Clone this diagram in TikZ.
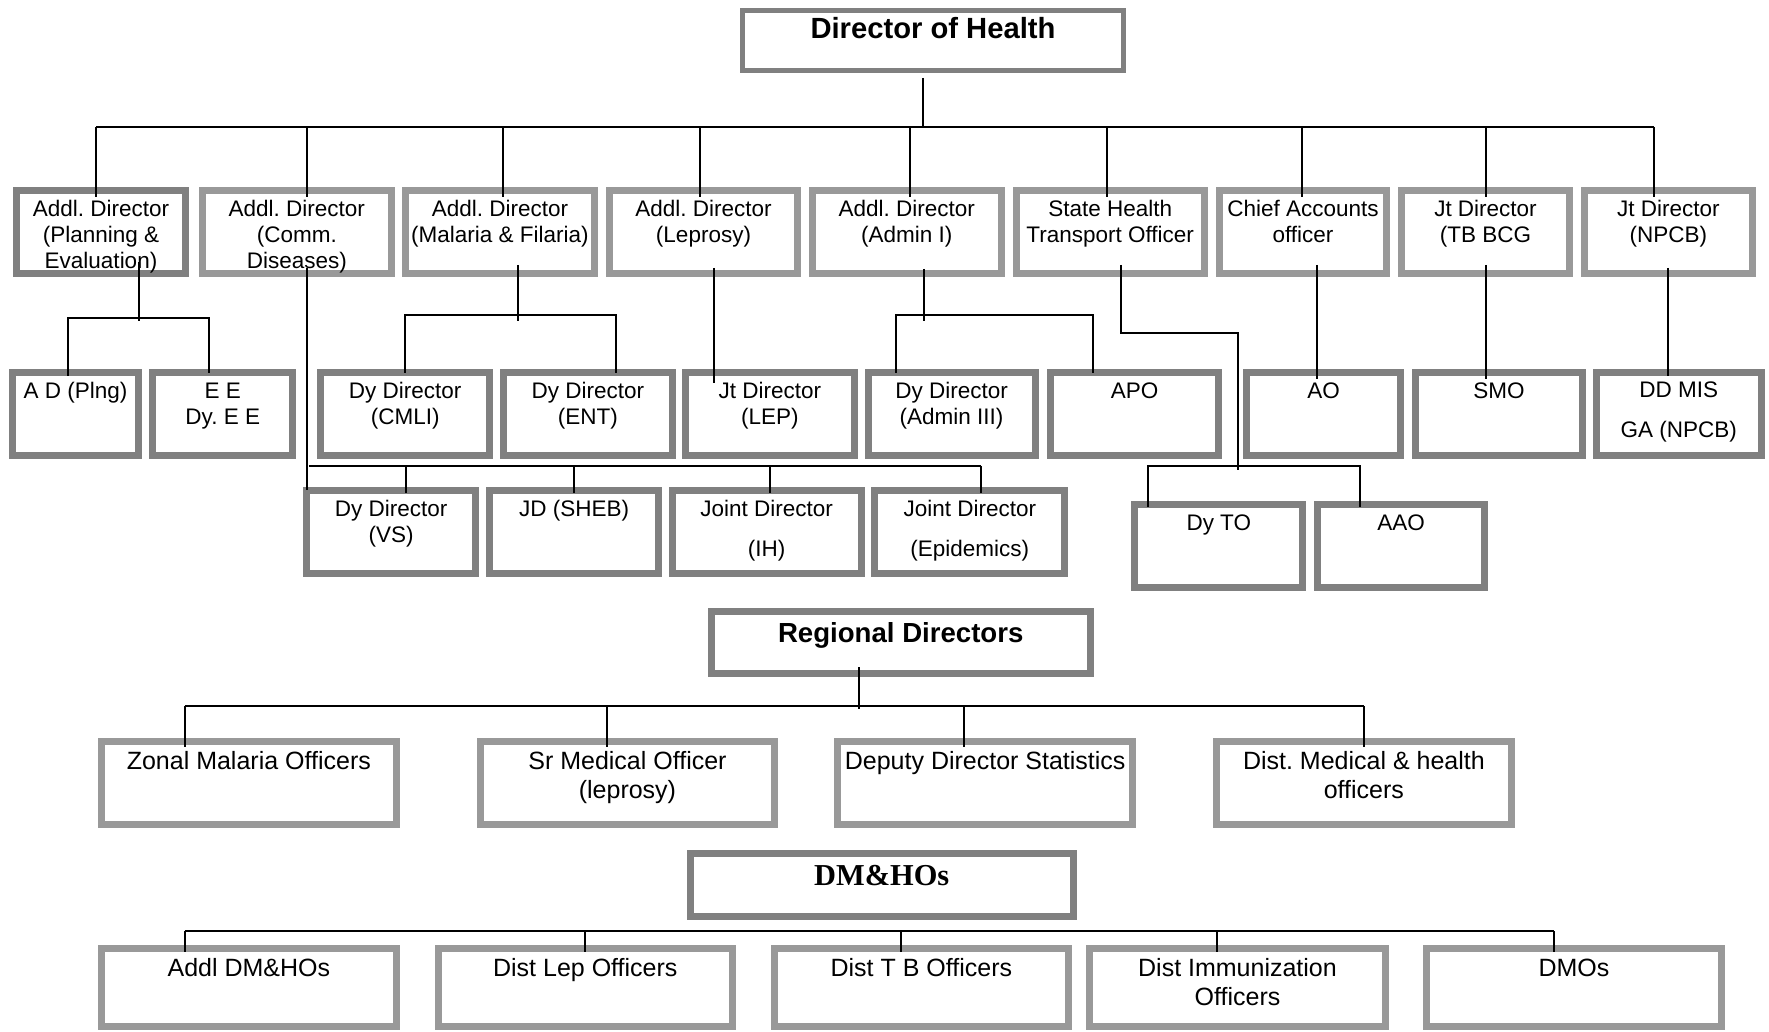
\documentclass[tikz,border=0pt]{standalone}
\usepackage{fontspec}
\setmainfont{Liberation Sans}
\newfontfamily\serifbold[BoldFont={Liberation Serif Bold}]{Liberation Serif}
\frenchspacing
\definecolor{bdark}{HTML}{808080}
\definecolor{blight}{HTML}{999999}
\tikzset{
  box/.style={rectangle, fill=white, inner sep=0pt, outer sep=0pt},
  txt/.style={font=\fontsize{11.25}{13}\selectfont, align=center, anchor=north, inner sep=0pt, yshift=9.1pt},
  txtl/.style={font=\fontsize{12.5}{14.4}\selectfont, align=center, anchor=north, inner sep=0pt, yshift=10.08pt},
  ttl/.style={font=\bfseries\fontsize{14.6}{17}\selectfont, anchor=base, inner sep=0pt},
  ttlr/.style={font=\bfseries\fontsize{13.8}{16}\selectfont, anchor=base, inner sep=0pt},
  ttls/.style={font=\serifbold\bfseries\fontsize{15.2}{17}\selectfont, anchor=base, inner sep=0pt},
  conn/.style={draw=black, line width=1pt},
}
% #1 border px, #2 name, #3 x1, #4 y1, #5 x2, #6 y2, #7 colour
\newcommand\bx[7][7]{\node[box, draw=#7, line width={#1*0.5pt},
  minimum width={(#5-#3-#1)*0.5pt}, minimum height={(#6-#4-#1)*0.5pt}]
  (#2) at ({(#3+#5)/2},{(#4+#6)/2}) {};}
% #1 name, #2 box, #3 baseline y, #4 style, #5 text
\newcommand\tx[5]{\node[#4] (#1) at (#2 |- 0,#3) {\strut #5};}
\begin{document}
\begin{tikzpicture}[x=0.5pt,y=-0.5pt]
\useasboundingbox (0,0) rectangle (1769,1032);

% ---------- boxes ----------
\bx[5]{dh}{740}{8}{1126}{73}{bdark}
\bx{b1}{12.6}{187}{189.4}{277}{bdark}
\bx{b2}{198.6}{187}{395}{277}{blight}
\bx{b3}{401.8}{187}{598.2}{277}{blight}
\bx{b4}{605.6}{187}{801.4}{277}{blight}
\bx{b5}{808.8}{187}{1004.7}{277}{blight}
\bx{b6}{1012.7}{187}{1207.7}{277}{blight}
\bx{b7}{1215.6}{187}{1390.3}{277}{blight}
\bx{b8}{1398.2}{187}{1572.8}{277}{blight}
\bx{b9}{1580.8}{187}{1756}{277}{blight}

\bx{c1}{9.2}{369}{141.8}{459}{bdark}
\bx{c2}{149.3}{369}{296.2}{459}{bdark}
\bx{c3}{317.4}{369}{493.1}{459}{bdark}
\bx{c4}{500}{369}{675.7}{459}{bdark}
\bx{c5}{682}{369}{857.6}{459}{bdark}
\bx{c6}{864.5}{369}{1038.7}{459}{bdark}
\bx{c7}{1047.3}{369}{1221.9}{459}{bdark}
\bx{c8}{1242.8}{369}{1404.4}{459}{bdark}
\bx{c9}{1411.8}{369}{1586.4}{459}{bdark}
\bx{c10}{1593.2}{369}{1764.5}{459}{bdark}

\bx{d1}{303.1}{486.7}{479.3}{576.7}{bdark}
\bx{d2}{486.2}{486.7}{661.9}{576.7}{bdark}
\bx{d3}{668.8}{486.7}{864.5}{576.7}{bdark}
\bx{d4}{871.4}{486.7}{1068.2}{576.7}{bdark}
\bx{d5}{1131.2}{500.7}{1306.4}{590.7}{bdark}
\bx{d6}{1313.7}{500.7}{1488.3}{590.7}{bdark}

\bx{rd}{707.8}{608.3}{1093.7}{677.3}{bdark}
\bx{e1}{97.6}{738.3}{400.1}{828.3}{blight}
\bx{e2}{476.5}{738.3}{778.4}{828.3}{blight}
\bx{e3}{834.1}{738.3}{1136.3}{828.3}{blight}
\bx{e4}{1212.8}{738.3}{1515}{828.3}{blight}

\bx{dm}{686.7}{850}{1076.7}{920}{bdark}
\bx{f1}{97.6}{945}{400.1}{1030}{blight}
\bx{f2}{434.6}{945}{736}{1030}{blight}
\bx{f3}{771}{945}{1071.6}{1030}{blight}
\bx{f4}{1086.4}{945}{1388.6}{1030}{blight}
\bx{f5}{1423.1}{945}{1724.7}{1030}{blight}

% ---------- texts ----------
\node[ttl] (dht) at (dh |- 0,39) {Director of Health};
\tx{b1t}{b1}{216}{txt}{Addl. Director\\(Planning \&\\Evaluation)}
\tx{b2t}{b2}{216}{txt}{Addl. Director\\(Comm.\\Diseases)}
\tx{b3t}{b3}{216}{txt}{Addl. Director\\(Malaria \& Filaria)}
\tx{b4t}{b4}{216}{txt}{Addl. Director\\(Leprosy)}
\tx{b5t}{b5}{216}{txt}{Addl. Director\\(Admin I)}
\tx{b6t}{b6}{216}{txt}{State Health\\Transport Officer}
\tx{b7t}{b7}{216}{txt}{Chief Accounts\\officer}
\tx{b8t}{b8}{216}{txt}{Jt Director\\(TB BCG}
\tx{b9t}{b9}{216}{txt}{Jt Director\\(NPCB)}

\tx{c1t}{c1}{398}{txt}{A D (Plng)}
\tx{c2t}{c2}{398}{txt}{E E\\Dy. E E}
\tx{c3t}{c3}{398}{txt}{Dy Director\\(CMLI)}
\tx{c4t}{c4}{398}{txt}{Dy Director\\(ENT)}
\tx{c5t}{c5}{398}{txt}{Jt Director\\(LEP)}
\tx{c6t}{c6}{398}{txt}{Dy Director\\(Admin III)}
\tx{c7t}{c7}{398}{txt}{APO}
\tx{c8t}{c8}{398}{txt}{AO}
\tx{c9t}{c9}{398}{txt}{SMO}
\tx{c10t}{c10}{397}{txt}{DD MIS\\[7pt]GA (NPCB)}

\tx{d1t}{d1}{516}{txt}{Dy Director\\(VS)}
\tx{d2t}{d2}{516}{txt}{JD (SHEB)}
\tx{d3t}{d3}{516}{txt}{Joint Director\\[7pt](IH)}
\tx{d4t}{d4}{516}{txt}{Joint Director\\[7pt](Epidemics)}
\tx{d5t}{d5}{530}{txt}{Dy TO}
\tx{d6t}{d6}{530}{txt}{AAO}

\node[ttlr] (rdt) at (rd |- 0,642) {Regional Directors};
\tx{e1t}{e1}{769}{txtl}{Zonal Malaria Officers}
\tx{e2t}{e2}{769}{txtl}{Sr Medical Officer\\(leprosy)}
\tx{e3t}{e3}{769}{txtl}{Deputy Director Statistics}
\tx{e4t}{e4}{769}{txtl}{Dist. Medical \& health\\officers}

\node[ttls] (dmt) at (dm |- 0,885) {DM\&HOs};
\tx{f1t}{f1}{976}{txtl}{Addl DM\&HOs}
\tx{f2t}{f2}{976}{txtl}{Dist Lep Officers}
\tx{f3t}{f3}{976}{txtl}{Dist T B Officers}
\tx{f4t}{f4}{976}{txtl}{Dist Immunization\\Officers}
\tx{f5t}{f5}{976}{txtl}{DMOs}

% ---------- connectors ----------
% Director of Health -> first row
\coordinate (o-dh) at (923,78);
\coordinate (jA) at (923,127);
\draw[conn] (o-dh) -- (jA);
\foreach \n/\x in {b1/96.4,b2/307.1,b3/503.4,b4/699.8,b5/910,b6/1106.8,b7/1302.4,b8/1485.5,b9/1653.9}{
  \coordinate (in-\n) at (\x,197);
  \draw[conn] (in-\n |- jA) -- (in-\n);
}
\draw[conn] (in-b1 |- jA) -- (in-b9 |- jA);

% Planning & Evaluation
\coordinate (o-b1) at (139,262);
\coordinate (j-b1) at (139,318);
\coordinate (in-c1) at (68.3,376);
\coordinate (in-c2) at (209,373);
\draw[conn] (o-b1) -- ([yshift=-1.5pt]j-b1);
\draw[conn] (in-c1) -- (in-c1 |- j-b1) -- (in-c2 |- j-b1) -- (in-c2);

% Malaria & Filaria
\coordinate (o-b3) at (517.8,265);
\coordinate (j-b3) at (517.8,315);
\coordinate (in-c3) at (405.3,373);
\coordinate (in-c4) at (616,373);
\draw[conn] (o-b3) -- ([yshift=-3pt]j-b3);
\draw[conn] (in-c3) -- (in-c3 |- j-b3) -- (in-c4 |- j-b3) -- (in-c4);

% Leprosy
\coordinate (o-b4) at (714.1,268);
\coordinate (in-c5) at (714.1,383);
\draw[conn] (o-b4) -- (in-c5);

% Admin I
\coordinate (o-b5) at (924.2,269);
\coordinate (j-b5) at (924.2,315);
\coordinate (in-c6) at (895.9,373);
\coordinate (in-c7) at (1092.6,373);
\draw[conn] (o-b5) -- ([yshift=-3pt]j-b5);
\draw[conn] (in-c6) -- (in-c6 |- j-b5) -- (in-c7 |- j-b5) -- (in-c7);

% State Health Transport Officer
\coordinate (o-b6) at (1121,265);
\coordinate (k-b6) at (1238.3,333.3);
\coordinate (j-b6) at (1238.3,466);
\coordinate (in-d5) at (1148.2,507);
\coordinate (in-d6) at (1359.6,507);
\draw[conn] (o-b6) |- (k-b6) -- ([yshift=-2pt]j-b6);
\draw[conn] (in-d5) -- (in-d5 |- j-b6) -- (in-d6 |- j-b6) -- (in-d6);

% Chief Accounts, TB BCG, NPCB
\coordinate (o-b7) at (1317.1,265);
\coordinate (in-c8) at (1317.1,379);
\draw[conn] (o-b7) -- (in-c8);
\coordinate (o-b8) at (1485.5,265);
\coordinate (in-c9) at (1485.5,379);
\draw[conn] (o-b8) -- (in-c9);
\coordinate (o-b9) at (1668,268);
\coordinate (in-c10) at (1668,376);
\draw[conn] (o-b9) -- (in-c10);

% Comm. Diseases
\coordinate (o-b2) at (307.1,268);
\coordinate (e-b2) at (307.1,490);
\coordinate (j-b2) at (308.8,466);
\draw[conn] (o-b2) -- (e-b2);
\foreach \n/\x in {d1/405.9,d2/573.5,d3/769.8,d4/980.9}{
  \coordinate (in-\n) at (\x,493);
  \draw[conn] (in-\n |- j-b2) -- (in-\n);
}
\draw[conn] (j-b2) -- (in-d4 |- j-b2);

% Regional Directors
\coordinate (o-rd) at (858.8,667);
\coordinate (j-rd) at (858.8,706);
\draw[conn] (o-rd) -- ([yshift=-1.5pt]j-rd);
\foreach \n/\x in {e1/184.8,e2/606.8,e3/963.9,e4/1364.2}{
  \coordinate (in-\n) at (\x,747);
  \draw[conn] (in-\n |- j-rd) -- (in-\n);
}
\draw[conn] (in-e1 |- j-rd) -- (in-e4 |- j-rd);

% DM&HOs
\coordinate (j-dm) at (184.8,931);
\foreach \n/\x in {f1/184.8,f2/585,f3/901,f4/1216.8,f5/1553.5}{
  \coordinate (in-\n) at (\x,952);
  \draw[conn] (in-\n |- j-dm) -- (in-\n);
}
\draw[conn] (in-f1 |- j-dm) -- (in-f5 |- j-dm);
\end{tikzpicture}
\end{document}
